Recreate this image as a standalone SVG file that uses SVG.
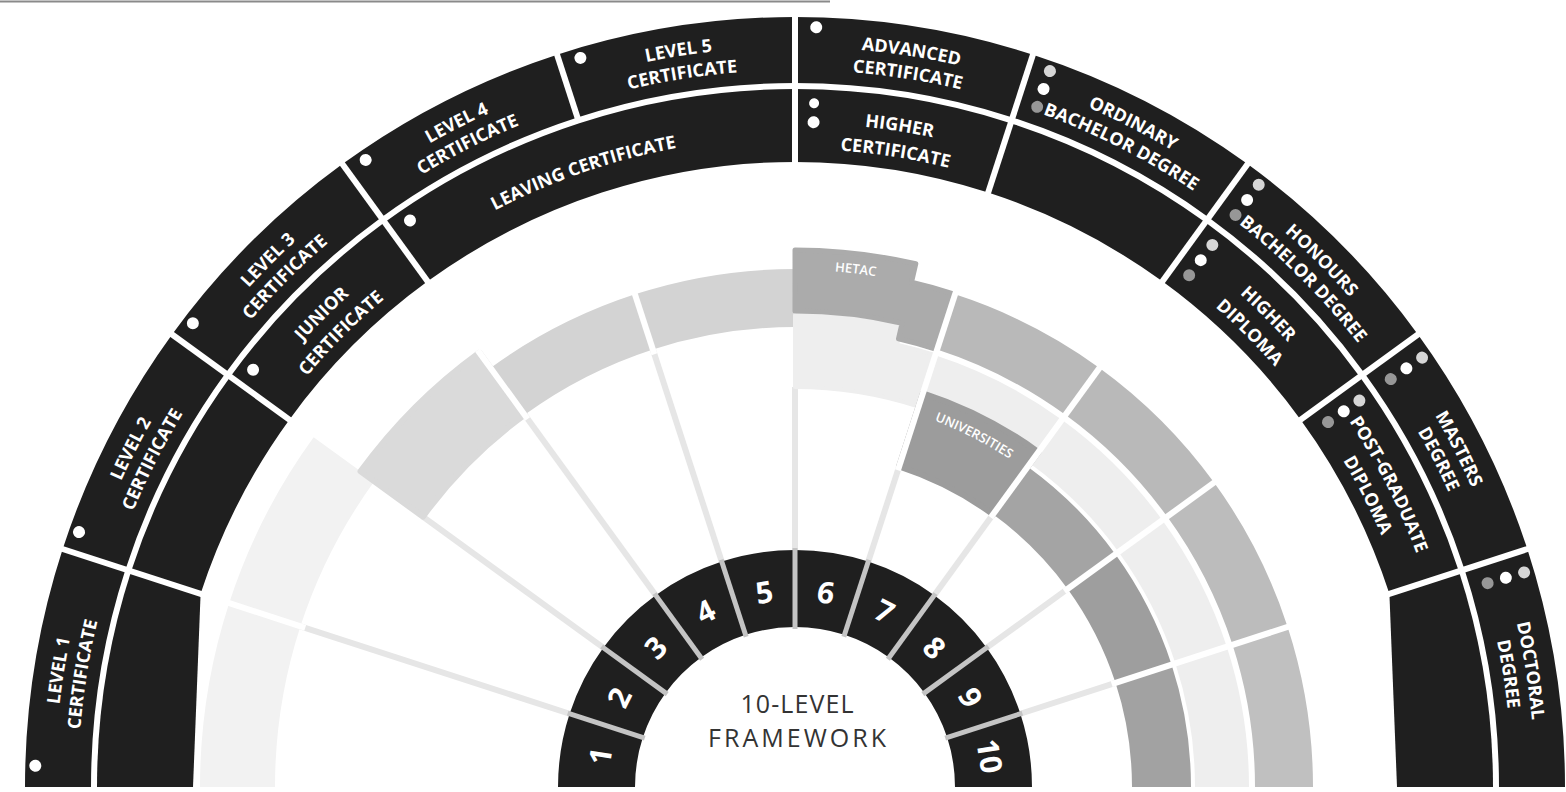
<svg xmlns="http://www.w3.org/2000/svg" width="1566" height="792" viewBox="0 0 1566 792">
<style>
  .blk{fill:#1f1f1f}
  .lbl{font-family:"Open Sans","Liberation Sans",sans-serif;font-weight:700;font-size:18px;fill:#fff}
  .num{font-family:"Open Sans","Liberation Sans",sans-serif;font-weight:700;font-size:30px;fill:#fff}
  .tag{font-family:"Open Sans","Liberation Sans",sans-serif;font-weight:600;font-size:13px;fill:#fff}
  .title{font-family:"Open Sans","Liberation Sans",sans-serif;font-size:25px;fill:#333}
  .gap{stroke:#fff;stroke-width:6}
  .lvgap{stroke:#c4c4c4;stroke-width:5}
  .spoke{stroke:#e6e6e6;stroke-width:6}
  .dw{fill:#fff}
  .dl{fill:#d6d6d6}
  .dg{fill:#979797}
</style>
<defs>
  <!-- one-level (18 degree) sectors, drawn centred on the top of the fan (centre 795,787) -->
  <path id="cellOuter" d="M674.55 26.48 A770 770 0 0 1 915.45 26.48 L905.13 91.67 A704 704 0 0 0 684.87 91.67 Z"/>
  <path id="cellInner" d="M685.81 97.59 A698 698 0 0 1 904.19 97.59 L892.77 169.69 A625 625 0 0 0 697.23 169.69 Z"/>
  <path id="cellInner2" d="M579.31 123.16 A698 698 0 0 1 1010.69 123.16 L988.14 192.59 A625 625 0 0 0 601.86 192.59 Z"/>
  <path id="cellLevel" d="M757.93 552.92 A237 237 0 0 1 832.07 552.92 L820.03 628.97 A160 160 0 0 0 769.97 628.97 Z"/>
  <path id="cellBody" d="M713.97 275.38 A518 518 0 0 1 876.03 275.38 L866.96 332.66 A460 460 0 0 0 723.04 332.66 Z"/>
  <path id="cellPale" d="M723.98 338.59 A454 454 0 0 1 866.02 338.59 L857.57 391.92 A400 400 0 0 0 732.43 391.92 Z"/>
  <path id="cellUni" d="M733.05 395.88 A396 396 0 0 1 856.95 395.88 L847.72 454.15 A337 337 0 0 0 742.28 454.15 Z"/>
  <path id="cellFaint" d="M701.92 199.33 A595 595 0 0 1 888.08 199.33 L876.35 273.40 A520 520 0 0 0 713.65 273.40 Z"/>
  <!-- baselines for curved labels, symmetric about the top -->
  <path id="arcO1" d="M154.14 417 A740 740 0 0 1 1435.86 417"/>
  <path id="arcO2" d="M174.06 428.5 A717 717 0 0 1 1415.94 428.5"/>
  <path id="arcI1" d="M219.96 455 A664 664 0 0 1 1370.04 455"/>
  <path id="arcI2" d="M242.47 468 A638 638 0 0 1 1347.53 468"/>
  <path id="arcI0" d="M232.08 462 A650 650 0 0 1 1357.92 462"/>
  <path id="arcBody" d="M347.26 528.5 A517 517 0 0 1 1242.74 528.5"/>
  <path id="arcUni" d="M455.52 591 A392 392 0 0 1 1134.48 591"/>
</defs>

<rect width="1566" height="792" fill="#fff"/>
<path d="M0 1.5H830" stroke="#8a8a8a" stroke-width="2"/>

<!-- connectors: pale spokes from the level ring out to the award rings -->
<g id="connectors">
  <line class="spoke" x1="795" y1="550" x2="795" y2="267" transform="rotate(-72 795 787)"/>
  <line class="spoke" x1="795" y1="550" x2="795" y2="327" transform="rotate(-54 795 787)"/>
  <line class="spoke" x1="795" y1="550" x2="795" y2="327" transform="rotate(-36 795 787)"/>
  <line class="spoke" x1="795" y1="550" x2="795" y2="327" transform="rotate(-18 795 787)"/>
  <line class="spoke" x1="795" y1="550" x2="795" y2="387"/>
  <line class="spoke" x1="795" y1="550" x2="795" y2="387" transform="rotate(18 795 787)"/>
  <line class="spoke" x1="795" y1="550" x2="795" y2="450" transform="rotate(36 795 787)"/>
  <line class="spoke" x1="795" y1="550" x2="795" y2="450" transform="rotate(54 795 787)"/>
  <line class="spoke" x1="795" y1="550" x2="795" y2="450" transform="rotate(72 795 787)"/>
</g>

<!-- faint ring, levels 1-2 -->
<g id="faint-ring" fill="#f2f2f2">
  <use href="#cellFaint" transform="rotate(-81 795 787)"/>
  <use href="#cellFaint" transform="rotate(-63 795 787)"/>
</g>

<!-- FETAC ring, levels 3-5 -->
<g id="fetac">
  <path d="M711.00 256.61 A537 537 0 0 1 879.00 256.61 L866.96 332.66 A460 460 0 0 0 723.04 332.66 Z" fill="#dadada" stroke="#dadada" stroke-width="6" stroke-linejoin="round" transform="rotate(-45 795 787)"/>
  <use href="#cellBody" fill="#d3d3d3" transform="rotate(-27 795 787)"/>
  <use href="#cellBody" fill="#d3d3d3" transform="rotate(-9 795 787)"/>
</g>

<!-- pale ring, levels 6-10 -->
<g id="pale-ring" fill="#eeeeee">
  <path d="M721.16 320.81 A472 472 0 0 1 827.93 316.15 L826.67 334.11 A454 454 0 0 1 866.02 338.59 L857.57 391.92 A400 400 0 0 0 732.43 391.92 Z" stroke="#eeeeee" stroke-width="4" stroke-linejoin="round" transform="rotate(9 795 787)"/>
  <use href="#cellPale" transform="rotate(27 795 787)"/>
  <use href="#cellPale" transform="rotate(45 795 787)"/>
  <use href="#cellPale" transform="rotate(63 795 787)"/>
  <use href="#cellPale" transform="rotate(81 795 787)"/>
</g>

<!-- HETAC ring, levels 6-10 -->
<g id="hetac">
  <g transform="rotate(9 795 787)">
    <path d="M711.00 256.61 A537 537 0 0 1 832.46 251.31 L831.13 270.26 A518 518 0 0 1 876.03 275.38 L866.96 332.66 A460 460 0 0 0 827.09 328.12 L828.20 312.16 A476 476 0 0 0 720.54 316.86 Z" fill="#ababab" stroke="#ababab" stroke-width="5" stroke-linejoin="round"/>
    <text class="tag" text-anchor="middle" transform="rotate(-2.3 795 787)"><textPath href="#arcBody" startOffset="50%">HETAC</textPath></text>
  </g>
  <use href="#cellBody" fill="#b9b9b9" transform="rotate(27 795 787)"/>
  <use href="#cellBody" fill="#b9b9b9" transform="rotate(45 795 787)"/>
  <use href="#cellBody" fill="#bcbcbc" transform="rotate(63 795 787)"/>
  <use href="#cellBody" fill="#c0c0c0" transform="rotate(81 795 787)"/>
</g>

<!-- Universities ring, levels 7-10 -->
<g id="universities">
  <g transform="rotate(27 795 787)">
    <path d="M730.24 378.10 A414 414 0 0 1 859.76 378.10 L847.72 454.15 A337 337 0 0 0 742.28 454.15 Z" fill="#9c9c9c" stroke="#9c9c9c" stroke-width="6" stroke-linejoin="round"/>
    <text class="tag" text-anchor="middle"><textPath href="#arcUni" startOffset="50%">UNIVERSITIES</textPath></text>
  </g>
  <use href="#cellUni" fill="#a4a4a4" transform="rotate(45 795 787)"/>
  <use href="#cellUni" fill="#9e9e9e" transform="rotate(63 795 787)"/>
  <use href="#cellUni" fill="#a2a2a2" transform="rotate(81 795 787)"/>
</g>

<!-- outer band: awards -->
<g id="level-1-certificate" transform="rotate(-81 795 787)">
  <use href="#cellOuter" class="blk"/>
  <circle class="dw" cx="697.12" cy="33.33" r="6"/>
  <text class="lbl" text-anchor="middle"><textPath href="#arcO1" startOffset="50%">LEVEL 1</textPath></text>
  <text class="lbl" text-anchor="middle"><textPath href="#arcO2" startOffset="50%">CERTIFICATE</textPath></text>
</g>
<g id="level-2-certificate" transform="rotate(-63 795 787)">
  <use href="#cellOuter" class="blk"/>
  <circle class="dw" cx="697.12" cy="33.33" r="6"/>
  <text class="lbl" text-anchor="middle"><textPath href="#arcO1" startOffset="50%">LEVEL 2</textPath></text>
  <text class="lbl" text-anchor="middle"><textPath href="#arcO2" startOffset="50%">CERTIFICATE</textPath></text>
</g>
<g id="level-3-certificate" transform="rotate(-45 795 787)">
  <use href="#cellOuter" class="blk"/>
  <circle class="dw" cx="697.12" cy="33.33" r="6"/>
  <text class="lbl" text-anchor="middle"><textPath href="#arcO1" startOffset="50%">LEVEL 3</textPath></text>
  <text class="lbl" text-anchor="middle"><textPath href="#arcO2" startOffset="50%">CERTIFICATE</textPath></text>
</g>
<g id="level-4-certificate" transform="rotate(-27 795 787)">
  <use href="#cellOuter" class="blk"/>
  <circle class="dw" cx="697.12" cy="33.33" r="6"/>
  <text class="lbl" text-anchor="middle"><textPath href="#arcO1" startOffset="50%">LEVEL 4</textPath></text>
  <text class="lbl" text-anchor="middle"><textPath href="#arcO2" startOffset="50%">CERTIFICATE</textPath></text>
</g>
<g id="level-5-certificate" transform="rotate(-9 795 787)">
  <use href="#cellOuter" class="blk"/>
  <circle class="dw" cx="697.12" cy="33.33" r="6"/>
  <text class="lbl" text-anchor="middle"><textPath href="#arcO1" startOffset="50%">LEVEL 5</textPath></text>
  <text class="lbl" text-anchor="middle"><textPath href="#arcO2" startOffset="50%">CERTIFICATE</textPath></text>
</g>
<g id="advanced-certificate" transform="rotate(9 795 787)">
  <use href="#cellOuter" class="blk"/>
  <circle class="dw" cx="697.12" cy="33.33" r="6"/>
  <text class="lbl" text-anchor="middle"><textPath href="#arcO1" startOffset="50%">ADVANCED</textPath></text>
  <text class="lbl" text-anchor="middle"><textPath href="#arcO2" startOffset="50%">CERTIFICATE</textPath></text>
</g>
<g id="ordinary-bachelor-degree" transform="rotate(27 795 787)">
  <use href="#cellOuter" class="blk"/>
  <circle class="dl" cx="697.12" cy="33.33" r="6"/>
  <circle class="dw" cx="699.56" cy="52.17" r="6"/>
  <circle class="dg" cx="702.01" cy="71.01" r="6"/>
  <text class="lbl" text-anchor="middle"><textPath href="#arcO1" startOffset="50%">ORDINARY</textPath></text>
  <text class="lbl" text-anchor="middle"><textPath href="#arcO2" startOffset="50%">BACHELOR DEGREE</textPath></text>
</g>
<g id="honours-bachelor-degree" transform="rotate(45 795 787)">
  <use href="#cellOuter" class="blk"/>
  <circle class="dl" cx="697.12" cy="33.33" r="6"/>
  <circle class="dw" cx="699.56" cy="52.17" r="6"/>
  <circle class="dg" cx="702.01" cy="71.01" r="6"/>
  <text class="lbl" text-anchor="middle"><textPath href="#arcO1" startOffset="50%">HONOURS</textPath></text>
  <text class="lbl" text-anchor="middle"><textPath href="#arcO2" startOffset="50%">BACHELOR DEGREE</textPath></text>
</g>
<g id="masters-degree" transform="rotate(63 795 787)">
  <use href="#cellOuter" class="blk"/>
  <circle class="dl" cx="697.12" cy="33.33" r="6"/>
  <circle class="dw" cx="699.56" cy="52.17" r="6"/>
  <circle class="dg" cx="702.01" cy="71.01" r="6"/>
  <text class="lbl" text-anchor="middle"><textPath href="#arcO1" startOffset="50%">MASTERS</textPath></text>
  <text class="lbl" text-anchor="middle"><textPath href="#arcO2" startOffset="50%">DEGREE</textPath></text>
</g>
<g id="doctoral-degree" transform="rotate(81 795 787)">
  <use href="#cellOuter" class="blk"/>
  <circle class="dl" cx="697.12" cy="33.33" r="6"/>
  <circle class="dw" cx="699.56" cy="52.17" r="6"/>
  <circle class="dg" cx="702.01" cy="71.01" r="6"/>
  <text class="lbl" text-anchor="middle"><textPath href="#arcO1" startOffset="50%">DOCTORAL</textPath></text>
  <text class="lbl" text-anchor="middle"><textPath href="#arcO2" startOffset="50%">DEGREE</textPath></text>
</g>

<!-- inner band: awards (the two end cells run straight down to the base) -->
<g id="inner-level-1"><path class="blk" d="M97 787 A698 698 0 0 1 131.16 571.31 L200.59 593.86 L193 787 Z"/></g>
<g id="inner-level-2" transform="rotate(-63 795 787)"><use href="#cellInner" class="blk"/></g>
<g id="junior-certificate" transform="rotate(-45 795 787)">
  <use href="#cellInner" class="blk"/>
  <circle class="dw" cx="706.90" cy="108.70" r="6"/>
  <text class="lbl" text-anchor="middle"><textPath href="#arcI1" startOffset="50%">JUNIOR</textPath></text>
  <text class="lbl" text-anchor="middle"><textPath href="#arcI2" startOffset="50%">CERTIFICATE</textPath></text>
</g>
<g id="leaving-certificate" transform="rotate(-18 795 787)">
  <use href="#cellInner2" class="blk"/>
  <circle class="dw" cx="603.89" cy="129.20" r="6"/>
  <text class="lbl" text-anchor="middle" transform="rotate(-1 795 787)"><textPath href="#arcI0" startOffset="50%">LEAVING CERTIFICATE</textPath></text>
</g>
<g id="higher-certificate" transform="rotate(9 795 787)">
  <use href="#cellInner" class="blk"/>
  <circle class="dw" cx="706.90" cy="108.70" r="5"/>
  <circle class="dw" cx="709.35" cy="127.54" r="6"/>
  <text class="lbl" text-anchor="middle"><textPath href="#arcI1" startOffset="50%">HIGHER</textPath></text>
  <text class="lbl" text-anchor="middle"><textPath href="#arcI2" startOffset="50%">CERTIFICATE</textPath></text>
</g>
<g id="inner-level-7" transform="rotate(27 795 787)"><use href="#cellInner" class="blk"/></g>
<g id="higher-diploma" transform="rotate(45 795 787)">
  <use href="#cellInner" class="blk"/>
  <circle class="dl" cx="706.90" cy="108.70" r="6"/>
  <circle class="dw" cx="709.35" cy="127.54" r="6"/>
  <circle class="dg" cx="711.80" cy="146.38" r="6"/>
  <text class="lbl" text-anchor="middle"><textPath href="#arcI1" startOffset="50%">HIGHER</textPath></text>
  <text class="lbl" text-anchor="middle"><textPath href="#arcI2" startOffset="50%">DIPLOMA</textPath></text>
</g>
<g id="post-graduate-diploma" transform="rotate(63 795 787)">
  <use href="#cellInner" class="blk"/>
  <circle class="dl" cx="706.90" cy="108.70" r="6"/>
  <circle class="dw" cx="709.35" cy="127.54" r="6"/>
  <circle class="dg" cx="711.80" cy="146.38" r="6"/>
  <text class="lbl" text-anchor="middle"><textPath href="#arcI1" startOffset="50%">POST-GRADUATE</textPath></text>
  <text class="lbl" text-anchor="middle"><textPath href="#arcI2" startOffset="50%">DIPLOMA</textPath></text>
</g>
<g id="inner-level-10"><path class="blk" d="M1458.84 571.31 A698 698 0 0 1 1493 787 L1397 787 L1389.41 593.86 Z"/></g>

<!-- white gaps between award cells and ring cells -->
<g id="cell-gaps" class="gap">
  <line x1="795" y1="12" x2="795" y2="167" transform="rotate(-72 795 787)"/>
  <line x1="795" y1="12" x2="795" y2="167" transform="rotate(-54 795 787)"/>
  <line x1="795" y1="12" x2="795" y2="167" transform="rotate(-36 795 787)"/>
  <line x1="795" y1="12" x2="795" y2="87" transform="rotate(-18 795 787)"/>
  <line x1="795" y1="12" x2="795" y2="167"/>
  <line x1="795" y1="12" x2="795" y2="167" transform="rotate(18 795 787)"/>
  <line x1="795" y1="12" x2="795" y2="167" transform="rotate(36 795 787)"/>
  <line x1="795" y1="12" x2="795" y2="167" transform="rotate(54 795 787)"/>
  <line x1="795" y1="12" x2="795" y2="167" transform="rotate(72 795 787)"/>
  <line x1="795" y1="189" x2="795" y2="272" transform="rotate(-72 795 787)"/>
  <line x1="795" y1="247" x2="795" y2="332" transform="rotate(-36 795 787)"/>
  <line x1="795" y1="247" x2="795" y2="332" transform="rotate(-18 795 787)"/>
  <line x1="795" y1="247" x2="795" y2="454" transform="rotate(18 795 787)"/>
  <line x1="795" y1="247" x2="795" y2="454" transform="rotate(36 795 787)"/>
  <line x1="795" y1="247" x2="795" y2="454" transform="rotate(54 795 787)"/>
  <line x1="795" y1="247" x2="795" y2="454" transform="rotate(72 795 787)"/>
</g>

<!-- 10-level framework ring -->
<g id="levels">
  <g id="level-1" transform="rotate(-81 795 787)"><use href="#cellLevel" class="blk"/><text class="num" x="795" y="600.7" text-anchor="middle">1</text></g>
  <g id="level-2" transform="rotate(-63 795 787)"><use href="#cellLevel" class="blk"/><text class="num" x="795" y="600.7" text-anchor="middle">2</text></g>
  <g id="level-3" transform="rotate(-45 795 787)"><use href="#cellLevel" class="blk"/><text class="num" x="795" y="600.7" text-anchor="middle">3</text></g>
  <g id="level-4" transform="rotate(-27 795 787)"><use href="#cellLevel" class="blk"/><text class="num" x="795" y="600.7" text-anchor="middle">4</text></g>
  <g id="level-5" transform="rotate(-9 795 787)"><use href="#cellLevel" class="blk"/><text class="num" x="795" y="600.7" text-anchor="middle">5</text></g>
  <g id="level-6" transform="rotate(9 795 787)"><use href="#cellLevel" class="blk"/><text class="num" x="795" y="600.7" text-anchor="middle">6</text></g>
  <g id="level-7" transform="rotate(27 795 787)"><use href="#cellLevel" class="blk"/><text class="num" x="795" y="600.7" text-anchor="middle">7</text></g>
  <g id="level-8" transform="rotate(45 795 787)"><use href="#cellLevel" class="blk"/><text class="num" x="795" y="600.7" text-anchor="middle">8</text></g>
  <g id="level-9" transform="rotate(63 795 787)"><use href="#cellLevel" class="blk"/><text class="num" x="795" y="600.7" text-anchor="middle">9</text></g>
  <g id="level-10" transform="rotate(81 795 787)"><use href="#cellLevel" class="blk"/><text class="num" x="795" y="600.7" text-anchor="middle">10</text></g>
  <g class="lvgap">
    <line x1="795" y1="548" x2="795" y2="629" transform="rotate(-72 795 787)"/>
    <line x1="795" y1="548" x2="795" y2="629" transform="rotate(-54 795 787)"/>
    <line x1="795" y1="548" x2="795" y2="629" transform="rotate(-36 795 787)"/>
    <line x1="795" y1="548" x2="795" y2="629" transform="rotate(-18 795 787)"/>
    <line x1="795" y1="548" x2="795" y2="629"/>
    <line x1="795" y1="548" x2="795" y2="629" transform="rotate(18 795 787)"/>
    <line x1="795" y1="548" x2="795" y2="629" transform="rotate(36 795 787)"/>
    <line x1="795" y1="548" x2="795" y2="629" transform="rotate(54 795 787)"/>
    <line x1="795" y1="548" x2="795" y2="629" transform="rotate(72 795 787)"/>
  </g>
</g>

<g id="framework-title" text-anchor="middle">
  <text class="title" x="797" y="713" textLength="113" lengthAdjust="spacing">10-LEVEL</text>
  <text class="title" x="797" y="747" textLength="178" lengthAdjust="spacing">FRAMEWORK</text>
</g>
</svg>
